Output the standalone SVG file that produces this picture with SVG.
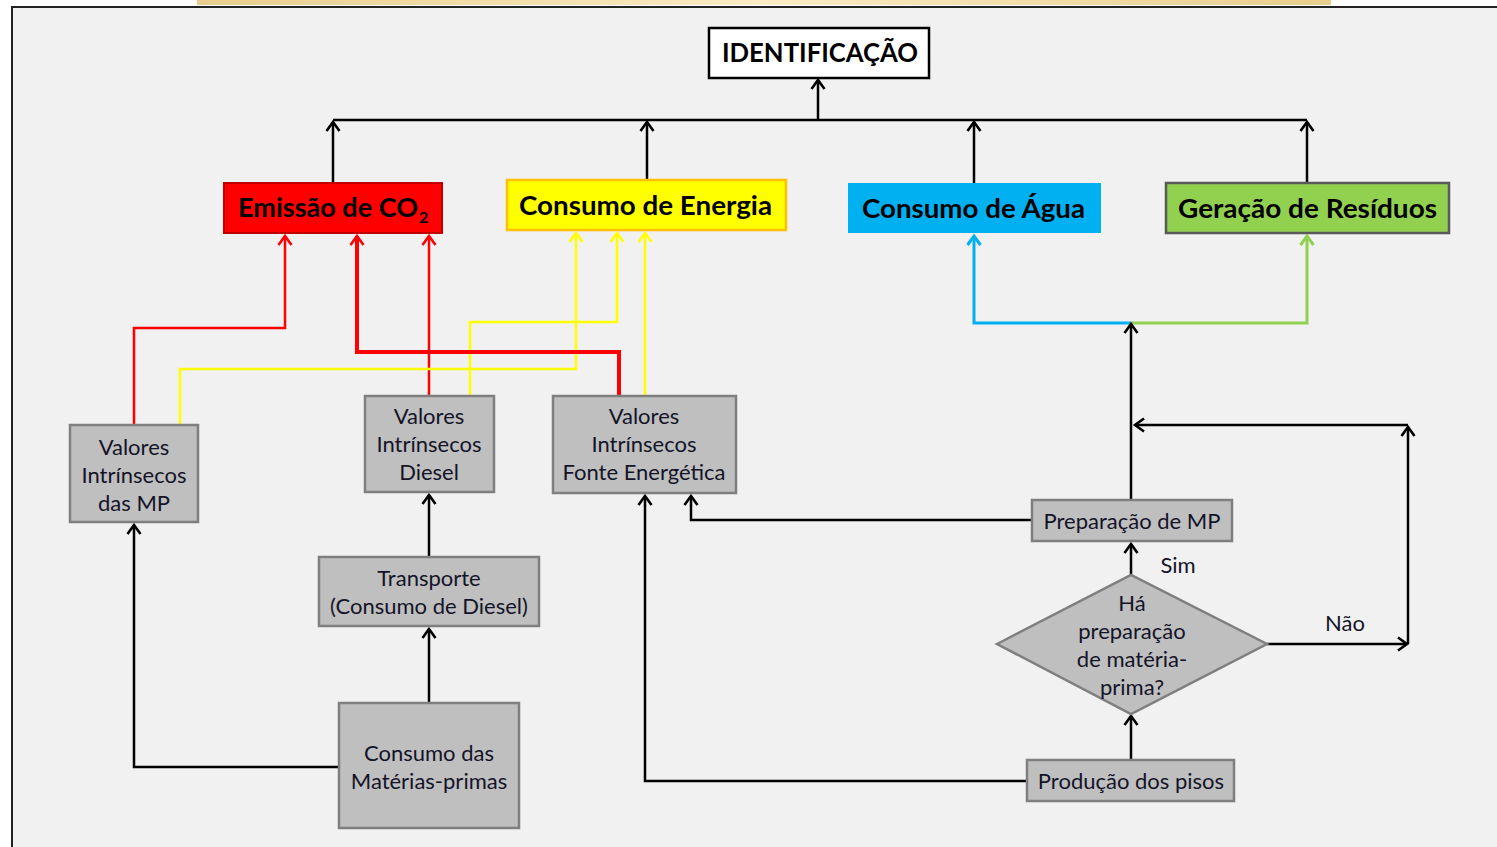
<svg xmlns="http://www.w3.org/2000/svg" width="1497" height="847" viewBox="0 0 1497 847">
<defs>
<linearGradient id="beige" x1="0" y1="0" x2="1" y2="0">
<stop offset="0" stop-color="#e9cd8c"/>
<stop offset="0.5" stop-color="#fbecc4"/>
<stop offset="1" stop-color="#e9cd8c"/>
</linearGradient>
<marker id="ak" markerUnits="userSpaceOnUse" markerWidth="24" markerHeight="24" viewBox="-12 -12 24 24" refX="0" refY="0" orient="auto"><path d="M-9,-6.5 L0,0 L-9,6.5" fill="none" stroke="#000" stroke-width="2.6"/></marker>
<marker id="ar" markerUnits="userSpaceOnUse" markerWidth="24" markerHeight="24" viewBox="-12 -12 24 24" refX="0" refY="0" orient="auto"><path d="M-9,-6.5 L0,0 L-9,6.5" fill="none" stroke="#ff0000" stroke-width="2.6"/></marker>
<marker id="ay" markerUnits="userSpaceOnUse" markerWidth="24" markerHeight="24" viewBox="-12 -12 24 24" refX="0" refY="0" orient="auto"><path d="M-9,-6.5 L0,0 L-9,6.5" fill="none" stroke="#ffff00" stroke-width="2.6"/></marker>
<marker id="ab" markerUnits="userSpaceOnUse" markerWidth="24" markerHeight="24" viewBox="-12 -12 24 24" refX="0" refY="0" orient="auto"><path d="M-9,-6.5 L0,0 L-9,6.5" fill="none" stroke="#00b0f0" stroke-width="3"/></marker>
<marker id="ag" markerUnits="userSpaceOnUse" markerWidth="24" markerHeight="24" viewBox="-12 -12 24 24" refX="0" refY="0" orient="auto"><path d="M-9,-6.5 L0,0 L-9,6.5" fill="none" stroke="#92d050" stroke-width="3"/></marker>
</defs>
<style>
.box{fill:#bfbfbf;stroke:#7f7f7f;stroke-width:2.5}
.t{font-family:Lato,"Liberation Sans",sans-serif;font-size:22px;fill:#141428;text-anchor:middle}
.h{font-family:Lato,"Liberation Sans",sans-serif;font-size:27px;font-weight:bold;fill:#000}
.lk{fill:none;stroke:#000;stroke-width:2.5}
.lr{fill:none;stroke:#ff0000;stroke-width:2.5}
.ly{fill:none;stroke:#ffff00;stroke-width:2.5}
.lb{fill:none;stroke:#00b0f0;stroke-width:3}
.lg{fill:none;stroke:#92d050;stroke-width:3}
</style>
<rect x="0" y="0" width="1497" height="847" fill="#ffffff"/>
<rect x="12" y="7" width="1485" height="840" fill="#f1f1f1"/>
<rect x="197" y="0" width="1134" height="5" fill="url(#beige)"/>
<path d="M12,847 V7 H1497" fill="none" stroke="#222" stroke-width="2"/>

<g id="connectors">
<path class="lk" d="M818,120 V80" marker-end="url(#ak)"/>
<path class="lk" d="M333,120 H1307"/>
<path class="lk" d="M333,183 V122" marker-end="url(#ak)"/>
<path class="lk" d="M647,180 V122" marker-end="url(#ak)"/>
<path class="lk" d="M974,183 V122" marker-end="url(#ak)"/>
<path class="lk" d="M1307,183 V122" marker-end="url(#ak)"/>
<path class="lr" d="M134,425 V328 H285 V236" marker-end="url(#ar)"/>
<path class="lr" d="M429,396 V236" marker-end="url(#ar)"/>
<path class="ly" d="M180,425 V369 H576 V233" marker-end="url(#ay)"/>
<path class="ly" d="M470,396 V322 H617 V233" marker-end="url(#ay)"/>
<path class="ly" d="M645,396 V233" marker-end="url(#ay)"/>
<path class="lr" style="stroke-width:4" d="M619,396 V352 H357 V236" marker-end="url(#ar)"/>
<path class="lb" d="M1131,323 H974 V236" marker-end="url(#ab)"/>
<path class="lg" d="M1131,323 H1307 V236" marker-end="url(#ag)"/>
<path class="lk" d="M1131,500 V324" marker-end="url(#ak)"/>
<path class="lk" d="M339,767 H134 V525" marker-end="url(#ak)"/>
<path class="lk" d="M429,703 V629" marker-end="url(#ak)"/>
<path class="lk" d="M429,557 V495" marker-end="url(#ak)"/>
<path class="lk" d="M1027,781 H645 V496" marker-end="url(#ak)"/>
<path class="lk" d="M1032,520 H691 V496" marker-end="url(#ak)"/>
<path class="lk" d="M1131,760 V716" marker-end="url(#ak)"/>
<path class="lk" d="M1131,575 V544" marker-end="url(#ak)"/>
<path class="lk" d="M1267,644 H1407" marker-end="url(#ak)"/>
<path class="lk" d="M1408,644 V427" marker-end="url(#ak)"/>
<path class="lk" d="M1408,425 H1135" marker-end="url(#ak)"/>
</g>

<g id="identificacao">
<rect x="709" y="28" width="220" height="50" fill="#ffffff" stroke="#000" stroke-width="2.5"/>
<text class="h" x="722" y="62" textLength="196" lengthAdjust="spacingAndGlyphs">IDENTIFICAÇÃO</text>
</g>
<g id="emissao">
<rect x="224" y="183" width="218" height="50" fill="#ff0000" stroke="#c00000" stroke-width="2"/>
<text class="h" x="238" y="217" textLength="180" lengthAdjust="spacingAndGlyphs">Emissão de CO</text>
<text class="h" x="419" y="223" style="font-size:16px">2</text>
</g>
<g id="energia">
<rect x="507" y="180" width="279" height="50" fill="#ffff00" stroke="#ffc000" stroke-width="2.5"/>
<text class="h" x="519" y="215" textLength="253" lengthAdjust="spacingAndGlyphs">Consumo de Energia</text>
</g>
<g id="agua">
<rect x="848" y="183" width="253" height="50" fill="#00b0f0"/>
<text class="h" x="862" y="218" textLength="223" lengthAdjust="spacingAndGlyphs">Consumo de Água</text>
</g>
<g id="residuos">
<rect x="1166" y="183" width="283" height="50" fill="#92d050" stroke="#595959" stroke-width="2.5"/>
<text class="h" x="1178" y="218" textLength="259" lengthAdjust="spacingAndGlyphs">Geração de Resíduos</text>
</g>

<g id="valores-mp">
<rect class="box" x="70" y="425" width="128" height="97"/>
<text class="t" x="134" y="455">Valores</text>
<text class="t" x="134" y="483">Intrínsecos</text>
<text class="t" x="134" y="511">das MP</text>
</g>
<g id="valores-diesel">
<rect class="box" x="365" y="396" width="129" height="96"/>
<text class="t" x="429" y="424">Valores</text>
<text class="t" x="429" y="452">Intrínsecos</text>
<text class="t" x="429" y="480">Diesel</text>
</g>
<g id="valores-fonte">
<rect class="box" x="553" y="396" width="183" height="97"/>
<text class="t" x="644" y="424">Valores</text>
<text class="t" x="644" y="452">Intrínsecos</text>
<text class="t" x="644" y="480">Fonte Energética</text>
</g>
<g id="transporte">
<rect class="box" x="319" y="557" width="220" height="69"/>
<text class="t" x="429" y="586">Transporte</text>
<text class="t" x="429" y="614">(Consumo de Diesel)</text>
</g>
<g id="consumo-mp">
<rect class="box" x="339" y="703" width="180" height="125"/>
<text class="t" x="429" y="761">Consumo das</text>
<text class="t" x="429" y="789">Matérias-primas</text>
</g>
<g id="preparacao">
<rect class="box" x="1032" y="500" width="200" height="41"/>
<text class="t" x="1132" y="529">Preparação de MP</text>
</g>
<g id="decisao">
<polygon class="box" points="997,644 1131,575 1267,644 1131,714"/>
<text class="t" x="1132" y="611">Há</text>
<text class="t" x="1132" y="639">preparação</text>
<text class="t" x="1132" y="667">de matéria-</text>
<text class="t" x="1132" y="695">prima?</text>
</g>
<g id="producao">
<rect class="box" x="1027" y="760" width="207" height="41"/>
<text class="t" x="1131" y="789">Produção dos pisos</text>
</g>
<g id="labels">
<text class="t" x="1178" y="573">Sim</text>
<text class="t" x="1345" y="631">Não</text>
</g>
</svg>
